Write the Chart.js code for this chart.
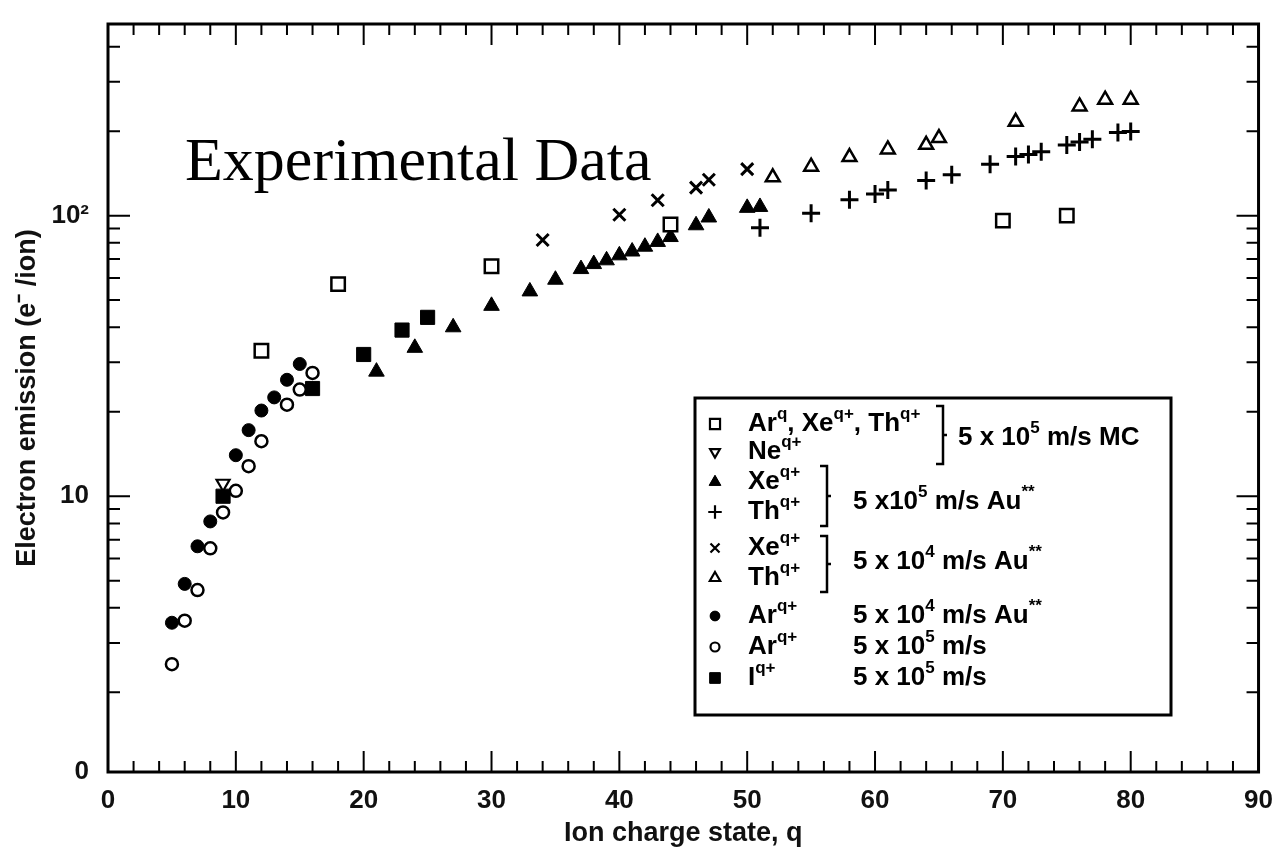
<!DOCTYPE html>
<html>
<head>
<meta charset="utf-8">
<script src="https://cdn.jsdelivr.net/npm/chart.js@4.4.0/dist/chart.umd.min.js"></script>
<style>
  html, body { margin: 0; padding: 0; background: #fff; }
  #wrap { position: relative; width: 1281px; height: 847px; }
</style>
</head>
<body>
<div id="wrap"><canvas id="grafico" width="1281" height="847"></canvas></div>
<script>
// ===== Eixos =====
const xMin = 0, xMax = 90;
const yMin = 1.04, yMax = 482;
const yTickValues = [yMin, 10, 100];
const yTickLabels = ["0", "10", "10²"];
const yMinorTicks = [2, 3, 4, 5, 6, 7, 8, 9, 20, 30, 40, 50, 60, 70, 80, 90, 200, 300, 400];

// ===== Dados =====
// Ar, Xe, Th 5x10^5 m/s MC (quadrado aberto)
const qMC = [12, 18, 30, 44, 70, 75];
const vMC = [33, 57, 66, 93, 96, 100];
// Ne (triangulo invertido)
const qNe = [9];
const vNe = [11.1];
// Xe 5x10^5 m/s Au (triangulo cheio)
const qXe5 = [21, 24, 27, 30, 33, 35, 37, 38, 39, 40, 41, 42, 43, 44, 46, 47, 50, 51];
const vXe5 = [27.8, 33.8, 40, 47.7, 53.7, 59.1, 64.5, 67.2, 69.3, 72.2, 74.5, 77.5, 80.6, 83.9, 92.4, 98.5, 106.6, 107.4];
// Th 5x10^5 m/s Au (+)
const qTh5 = [51, 55, 58, 60, 61, 64, 66, 69, 71, 72, 73, 75, 76, 77, 79, 80];
const vTh5 = [90.5, 102, 114, 119.5, 123.3, 133.5, 139.8, 152.5, 162.5, 165.1, 169, 178.6, 182.9, 187.3, 197.9, 199.4];
// Xe 5x10^4 m/s Au (x)
const qXe4 = [34, 40, 43, 46, 47, 50];
const vXe4 = [81.9, 100.7, 113.5, 125.9, 134.3, 146.5];
// Th 5x10^4 m/s Au (triangulo aberto)
const qTh4 = [52, 55, 58, 61, 64, 65, 71, 76, 78, 80];
const vTh4 = [137, 149.5, 161.8, 172.2, 178.8, 189, 216, 245, 259, 259];
// Ar 5x10^4 m/s Au (circulo cheio)
const qAr4 = [5, 6, 7, 8, 10, 11, 12, 13, 14, 15];
const vAr4 = [3.54, 4.87, 6.63, 8.13, 14.0, 17.2, 20.2, 22.5, 26.0, 29.6];
// Ar 5x10^5 m/s (circulo aberto)
const qAr5 = [5, 6, 7, 8, 9, 10, 11, 12, 14, 15, 16];
const vAr5 = [2.52, 3.6, 4.63, 6.52, 8.75, 10.45, 12.8, 15.7, 21.2, 24.0, 27.5];
// I 5x10^5 m/s (quadrado cheio)
const qI = [9, 16, 20, 23, 25];
const vI = [10.0, 24.2, 32.0, 39.1, 43.4];

const pontos = (qs, vs) => qs.map((q, i) => ({ x: q, y: vs[i] }));

// ===== Estilos dos marcadores =====
const estilos = {
  mc:   { pointStyle: "rect", radius: 9.5, rotation: 0, borderWidth: 2.5, fill: "#fff" },
  ne:   { pointStyle: "triangle", radius: 7.5, rotation: 180, borderWidth: 2.2, fill: "#fff" },
  xe5:  { pointStyle: "triangle", radius: 9, rotation: 0, borderWidth: 1, fill: "#000" },
  th5:  { pointStyle: "cross", radius: 9, rotation: 0, borderWidth: 3, fill: "#000" },
  xe4:  { pointStyle: "crossRot", radius: 8.5, rotation: 0, borderWidth: 3, fill: "#000" },
  th4:  { pointStyle: "triangle", radius: 8, rotation: 0, borderWidth: 2.5, fill: "#fff" },
  ar4:  { pointStyle: "circle", radius: 6.5, rotation: 0, borderWidth: 1, fill: "#000" },
  ar5:  { pointStyle: "circle", radius: 6, rotation: 0, borderWidth: 2.5, fill: "#fff" },
  iq:   { pointStyle: "rect", radius: 10, rotation: 0, borderWidth: 1, fill: "#000" }
};

function serie(dados, est) {
  return {
    data: dados,
    showLine: false,
    pointStyle: est.pointStyle,
    pointRadius: est.radius,
    pointRotation: est.rotation,
    pointBorderWidth: est.borderWidth,
    pointBackgroundColor: est.fill,
    pointBorderColor: "#000",
    pointHoverRadius: est.radius
  };
}

// ===== Legenda =====
const legendaLinhas = [
  { est: "mc",  y: 424, txt: [["Ar"], ["q", 1], [", Xe"], ["q+", 1], [", Th"], ["q+", 1]] },
  { est: "ne",  y: 452, txt: [["Ne"], ["q+", 1]] },
  { est: "xe5", y: 482, txt: [["Xe"], ["q+", 1]] },
  { est: "th5", y: 512, txt: [["Th"], ["q+", 1]] },
  { est: "xe4", y: 548, txt: [["Xe"], ["q+", 1]] },
  { est: "th4", y: 578, txt: [["Th"], ["q+", 1]] },
  { est: "ar4", y: 616, txt: [["Ar"], ["q+", 1]], dir: [["5 x 10"], ["4", 1], [" m/s Au"], ["**", 1]] },
  { est: "ar5", y: 647, txt: [["Ar"], ["q+", 1]], dir: [["5 x 10"], ["5", 1], [" m/s"]] },
  { est: "iq",  y: 678, txt: [["I"], ["q+", 1]], dir: [["5 x 10"], ["5", 1], [" m/s"]] }
];
const legendaChaves = [
  { x: 943, y0: 406, y1: 464, tx: 958, ty: 438, txt: [["5 x 10"], ["5", 1], [" m/s MC"]] },
  { x: 827, y0: 466, y1: 526, tx: 853, ty: 502, txt: [["5 x10"], ["5", 1], [" m/s Au"], ["**", 1]] },
  { x: 827, y0: 536, y1: 592, tx: 853, ty: 562, txt: [["5 x 10"], ["4", 1], [" m/s Au"], ["**", 1]] }
];

const FONTE = '"Liberation Sans", Arial, sans-serif';
const TAM_LEGENDA = 26;

function textoRico(ctx, segs, x, y, size) {
  let cx = x;
  ctx.textAlign = "left";
  ctx.textBaseline = "middle";
  segs.forEach(([t, sup]) => {
    const s = sup ? Math.round(size * 0.64) : size;
    ctx.font = `bold ${s}px ${FONTE}`;
    ctx.fillText(t, cx, sup ? y - size * 0.36 : y);
    cx += ctx.measureText(t).width;
  });
}

const molduraPlugin = {
  id: "moldura",
  afterDraw(chart) {
    const { ctx, chartArea: a, scales: { x, y } } = chart;
    ctx.save();
    ctx.strokeStyle = "#000";
    ctx.fillStyle = "#000";
    ctx.lineCap = "butt";

    // ticks x (dentro)
    ctx.lineWidth = 2;
    for (let q = xMin; q <= xMax; q += 2) {
      const px = x.getPixelForValue(q);
      const len = q % 10 === 0 ? 21 : 11;
      ctx.beginPath();
      ctx.moveTo(px, a.bottom); ctx.lineTo(px, a.bottom - len);
      ctx.moveTo(px, a.top); ctx.lineTo(px, a.top + len);
      ctx.stroke();
    }
    // ticks y (dentro)
    const ticksY = yMinorTicks.map(v => [v, 12]).concat([[10, 22], [100, 22]]);
    ticksY.forEach(([v, len]) => {
      const py = y.getPixelForValue(v);
      ctx.beginPath();
      ctx.moveTo(a.left, py); ctx.lineTo(a.left + len, py);
      ctx.moveTo(a.right, py); ctx.lineTo(a.right - len, py);
      ctx.stroke();
    });

    // moldura
    ctx.lineWidth = 3;
    ctx.strokeRect(a.left, a.top, a.right - a.left, a.bottom - a.top);

    // titulo interno
    ctx.font = '62px "Liberation Serif", "Times New Roman", serif';
    ctx.textAlign = "left";
    ctx.textBaseline = "alphabetic";
    ctx.fillText("Experimental Data", 185, 180);

    // legenda
    ctx.fillStyle = "#fff";
    ctx.fillRect(695, 398, 476, 317);
    ctx.lineWidth = 3;
    ctx.strokeRect(695, 398, 476, 317);
    ctx.fillStyle = "#000";
    legendaLinhas.forEach(l => {
      const est = estilos[l.est];
      ctx.lineWidth = Math.min(est.borderWidth, 2.2);
      ctx.fillStyle = est.fill;
      ctx.strokeStyle = "#000";
      Chart.helpers.drawPoint(ctx, {
        pointStyle: est.pointStyle,
        radius: est.radius * 0.75,
        rotation: est.rotation,
        borderWidth: ctx.lineWidth
      }, 715, l.y);
      if (est.fill === "#000") ctx.fill();
      ctx.fillStyle = "#000";
      textoRico(ctx, l.txt, 748, l.y, TAM_LEGENDA);
      if (l.dir) textoRico(ctx, l.dir, 853, l.y, TAM_LEGENDA);
    });
    ctx.lineWidth = 2.5;
    legendaChaves.forEach(c => {
      ctx.beginPath();
      ctx.moveTo(c.x - 7, c.y0); ctx.lineTo(c.x, c.y0);
      ctx.lineTo(c.x, c.y1); ctx.lineTo(c.x - 7, c.y1);
      ctx.moveTo(c.x, (c.y0 + c.y1) / 2); ctx.lineTo(c.x + 4, (c.y0 + c.y1) / 2);
      ctx.stroke();
      textoRico(ctx, c.txt, c.tx, c.ty, TAM_LEGENDA);
    });
    ctx.restore();
  }
};

const fonteTicks = { family: FONTE, weight: "bold", size: 26, lineHeight: 1 };
const fonteTitulo = { family: FONTE, weight: "bold", size: 27, lineHeight: 1 };

new Chart(document.getElementById("grafico"), {
  type: "scatter",
  data: {
    datasets: [
      serie(pontos(qMC, vMC), estilos.mc),
      serie(pontos(qNe, vNe), estilos.ne),
      serie(pontos(qXe5, vXe5), estilos.xe5),
      serie(pontos(qTh5, vTh5), estilos.th5),
      serie(pontos(qXe4, vXe4), estilos.xe4),
      serie(pontos(qTh4, vTh4), estilos.th4),
      serie(pontos(qAr4, vAr4), estilos.ar4),
      serie(pontos(qAr5, vAr5), estilos.ar5),
      serie(pontos(qI, vI), estilos.iq)
    ]
  },
  options: {
    responsive: false,
    animation: false,
    devicePixelRatio: 1,
    layout: { padding: { top: 17, right: 20, bottom: 0, left: 0 } },
    plugins: { legend: { display: false }, tooltip: { enabled: false } },
    scales: {
      x: {
        type: "linear",
        min: xMin,
        max: xMax,
        grid: { display: false },
        border: { display: false },
        ticks: { stepSize: 10, autoSkip: false, maxRotation: 0, padding: 8, color: "#111", font: fonteTicks },
        title: { display: true, text: "Ion charge state, q", color: "#111", font: fonteTitulo, padding: { top: 0, bottom: 0 } },
        afterFit: s => { s.height = 75; }
      },
      y: {
        type: "logarithmic",
        min: yMin,
        max: yMax,
        grid: { display: false },
        border: { display: false },
        afterBuildTicks: s => { s.ticks = yTickValues.map(v => ({ value: v })); },
        ticks: {
          padding: 11,
          color: "#111",
          font: fonteTicks,
          callback: v => {
            const i = yTickValues.indexOf(v);
            return i >= 0 ? yTickLabels[i] : "";
          }
        },
        title: { display: true, text: "Electron emission (e⁻ /ion)", color: "#111", font: fonteTitulo, padding: { top: 14, bottom: 0 } },
        afterFit: s => { s.width = 108; }
      }
    }
  },
  plugins: [molduraPlugin]
});
</script>
</body>
</html>
